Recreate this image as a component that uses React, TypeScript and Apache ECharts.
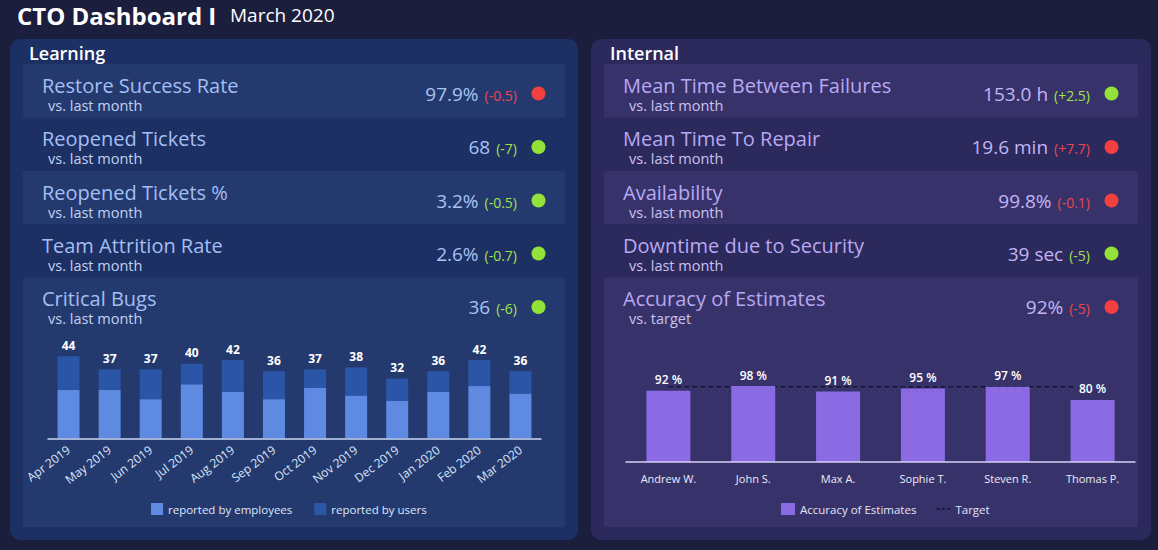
import React, { useEffect, useRef } from "react";
import * as echarts from "echarts";

const MONTHS = ["Apr 2019", "May 2019", "Jun 2019", "Jul 2019", "Aug 2019", "Sep 2019", "Oct 2019", "Nov 2019", "Dec 2019", "Jan 2020", "Feb 2020", "Mar 2020"];
const BY_EMPLOYEES = [26, 26, 21, 29, 25, 21, 27, 23, 20, 25, 28, 24];
const BY_USERS = [18, 11, 16, 11, 17, 15, 10, 15, 12, 11, 14, 12];

const PEOPLE = ["Andrew W.", "John S.", "Max A.", "Sophie T.", "Steven R.", "Thomas P."];
const ACCURACY = [92, 98, 91, 95, 97, 80];
const TARGET = [97, 97, 97, 97, 97, 97];

const LEFT_TITLES = ["Restore Success Rate", "Reopened Tickets", "Reopened Tickets %", "Team Attrition Rate", "Critical Bugs"];
const LEFT_SUBS = ["vs. last month", "vs. last month", "vs. last month", "vs. last month", "vs. last month"];
const LEFT_VALUES = ["97.9%", "68", "3.2%", "2.6%", "36"];
const LEFT_DELTAS = ["(-0.5)", "(-7)", "(-0.5)", "(-0.7)", "(-6)"];
const LEFT_GOOD = [false, true, true, true, true];

const RIGHT_TITLES = ["Mean Time Between Failures", "Mean Time To Repair", "Availability", "Downtime due to Security", "Accuracy of Estimates"];
const RIGHT_SUBS = ["vs. last month", "vs. last month", "vs. last month", "vs. last month", "vs. target"];
const RIGHT_VALUES = ["153.0 h", "19.6 min", "99.8%", "39 sec", "92%"];
const RIGHT_DELTAS = ["(+2.5)", "(+7.7)", "(-0.1)", "(-5)", "(-5)"];
const RIGHT_GOOD = [true, false, false, true, false];

const FONT = '"Open Sans", "Noto Sans", sans-serif';
const ROW_TOPS = [64, 117.5, 171, 224, 277.5];
const GREEN = "#93e23a";
const RED = "#f23f3f";
const GREEN_TXT = "#9fe24a";
const RED_TXT = "#e8474f";
const RIGHT_TILE = "#37336a";

function txt(x: number, y: number, text: string, fill: string, font: string, lineHeight: number) {
  return {
    type: "text", x, y,
    style: { text, fill, font, lineHeight, textAlign: "left", textVerticalAlign: "middle", align: "left", verticalAlign: "middle" },
  };
}

function panelElements(
  x0: number, x1: number, header: string,
  panelColor: string, tileColor: string,
  titleColor: string, subColor: string, valueColor: string,
  titles: string[], subs: string[], values: string[], deltas: string[], good: boolean[]
) {
  const els: any[] = [];
  els.push({ type: "rect", shape: { x: x0, y: 39, width: x1 - x0, height: 501, r: 10 }, style: { fill: panelColor } });
  els.push(txt(x0 + 19, 53, header, "#ffffff", `600 18px ${FONT}`, 18));
  const tx0 = x0 + 13;
  const tx1 = x1 - 13;
  ROW_TOPS.forEach((top, i) => {
    if (i % 2 === 0) {
      const h = i === 4 ? 527 - top : ROW_TOPS[i + 1] - top;
      els.push({ type: "rect", shape: { x: tx0, y: top, width: tx1 - tx0, height: h, r: 2 }, style: { fill: tileColor } });
    }
    els.push(txt(tx0 + 19, top + 21, titles[i], titleColor, `400 20px ${FONT}`, 20));
    els.push(txt(tx0 + 25, top + 41, subs[i], subColor, `400 14.5px ${FONT}`, 15));
    els.push({
      type: "text", x: tx1 - 48, y: top + 29.5,
      style: {
        text: `{v|${values[i]}}{d|${deltas[i]}}`,
        textAlign: "right", textVerticalAlign: "middle", align: "right", verticalAlign: "middle",
        rich: {
          v: { fill: valueColor, fontSize: 19, fontFamily: FONT, fontWeight: 400, lineHeight: 20 },
          d: { fill: good[i] ? GREEN_TXT : RED_TXT, fontSize: 14, fontFamily: FONT, fontWeight: 400, padding: [3, 0, 0, 6], lineHeight: 16 },
        },
      },
    });
    els.push({ type: "circle", shape: { cx: tx1 - 26.5, cy: top + 29.5, r: 7 }, style: { fill: good[i] ? GREEN : RED } });
  });
  return els;
}

export default function App() {
  const ref = useRef<HTMLDivElement>(null);
  useEffect(() => {
    document.body.style.margin = "0";
    const chart = echarts.init(ref.current!, null, { renderer: "svg" });
    const totals = BY_EMPLOYEES.map((v, i) => v + BY_USERS[i]);
    const accuracyData = ACCURACY.map((v, i) =>
      i === ACCURACY.length - 1 ? { value: v, label: { backgroundColor: RIGHT_TILE, padding: [1, 3] } } : v
    );
    const elements = [
      txt(17, 15, "CTO Dashboard I", "#ffffff", `700 24px ${FONT}`, 24),
      txt(230, 15, "March 2020", "#ffffff", `500 19px ${FONT}`, 20),
      ...panelElements(10, 578, "Learning", "#1c3064", "#243a6f", "#a3bff3", "#c3d0ee", "#a9c3f3",
        LEFT_TITLES, LEFT_SUBS, LEFT_VALUES, LEFT_DELTAS, LEFT_GOOD),
      ...panelElements(591, 1151, "Internal", "#2c295c", RIGHT_TILE, "#b8a8f2", "#cbc2ef", "#c3b5f5",
        RIGHT_TITLES, RIGHT_SUBS, RIGHT_VALUES, RIGHT_DELTAS, RIGHT_GOOD),
    ];
    chart.setOption({
      animation: false,
      backgroundColor: "#1c1e3d",
      textStyle: { fontFamily: FONT },
      graphic: { elements },
      grid: [
        { left: 48, width: 493, top: 345.1, height: 93.2 },
        { left: 626, width: 509, top: 369, height: 93 },
      ],
      xAxis: [
        {
          gridIndex: 0, type: "category", data: MONTHS, z: 5,
          axisLine: { lineStyle: { color: "#c9d8f4", width: 1.5 } },
          axisTick: { show: false },
          axisLabel: { rotate: 37, color: "#d9e4fa", fontSize: 12, margin: 10 },
        },
        {
          gridIndex: 1, type: "category", data: PEOPLE, z: 5,
          axisLine: { lineStyle: { color: "#d6d2f4", width: 1.5 } },
          axisTick: { show: false },
          axisLabel: { color: "#ecebfa", fontSize: 11, margin: 11 },
        },
      ],
      yAxis: [
        { gridIndex: 0, type: "value", min: 0, max: 50, show: false },
        { gridIndex: 1, type: "value", min: 0, max: 120, show: false },
      ],
      legend: [
        {
          data: ["reported by employees", "reported by users"],
          left: 146, top: 498, itemWidth: 12, itemHeight: 12, itemGap: 22, icon: "rect",
          textStyle: { color: "#dfe6f8", fontSize: 11.5 },
        },
        {
          data: [
            { name: "Accuracy of Estimates", icon: "rect" },
            { name: "Target", icon: "path://M0,0 L4,0 L4,1.5 L0,1.5 Z M6,0 L10,0 L10,1.5 L6,1.5 Z M12,0 L16,0 L16,1.5 L12,1.5 Z" },
          ],
          left: 776, top: 498, itemWidth: 14, itemHeight: 12, itemGap: 20,
          textStyle: { color: "#e6e4f8", fontSize: 11.5 },
        },
      ],
      series: [
        {
          name: "reported by employees", type: "bar", stack: "bugs", xAxisIndex: 0, yAxisIndex: 0,
          data: BY_EMPLOYEES, barWidth: 22, itemStyle: { color: "#5f8ae2" },
        },
        {
          name: "reported by users", type: "bar", stack: "bugs", xAxisIndex: 0, yAxisIndex: 0,
          data: BY_USERS, barWidth: 22, itemStyle: { color: "#2b55a7" },
          label: {
            show: true, position: "top", distance: 5, color: "#ffffff", fontSize: 12, fontWeight: 700,
            formatter: (p: any) => String(totals[p.dataIndex]),
          },
        },
        {
          name: "Accuracy of Estimates", type: "bar", xAxisIndex: 1, yAxisIndex: 1,
          data: accuracyData, barWidth: 44, itemStyle: { color: "#8a6be4" },
          label: { show: true, position: "top", distance: 5, color: "#ffffff", fontSize: 12, fontWeight: 600, formatter: "{c} %" },
        },
        {
          name: "Target", type: "line", xAxisIndex: 1, yAxisIndex: 1,
          data: TARGET, symbol: "none", z: 1,
          lineStyle: { color: "#161638", width: 1.5, type: [5, 3] },
          itemStyle: { color: "#161638" },
        },
      ],
    });
    return () => chart.dispose();
  }, []);
  return <div ref={ref} style={{ position: "fixed", left: 0, top: 0, width: 1158, height: 550 }} />;
}
